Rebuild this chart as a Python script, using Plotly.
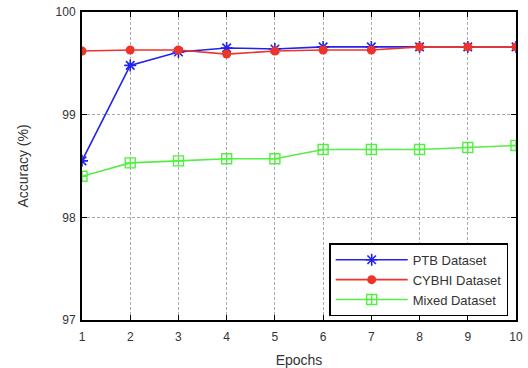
import plotly.graph_objects as go

epochs = [1, 2, 3, 4, 5, 6, 7, 8, 9, 10]
ptb = [98.55, 99.48, 99.61, 99.65, 99.64, 99.66, 99.66, 99.66, 99.66, 99.66]
cybhi = [99.62, 99.63, 99.63, 99.59, 99.62, 99.63, 99.63, 99.66, 99.66, 99.66]
mixed = [98.40, 98.53, 98.55, 98.57, 98.57, 98.66, 98.66, 98.66, 98.68, 98.70]

fig = go.Figure()
fig.add_trace(go.Scatter(x=epochs, y=ptb, name="PTB Dataset", mode="lines+markers",
                         line=dict(color="#2222ee", width=1.6),
                         marker=dict(symbol="asterisk-open", size=10, color="#2222ee",
                                     line=dict(color="#2222ee", width=1.6))))
fig.add_trace(go.Scatter(x=epochs, y=cybhi, name="CYBHI Dataset", mode="lines+markers",
                         line=dict(color="#ee3329", width=1.6),
                         marker=dict(symbol="circle", size=9, color="#ee3329")))
fig.add_trace(go.Scatter(x=epochs, y=mixed, name="Mixed Dataset", mode="lines+markers",
                         line=dict(color="#55ee44", width=1.6),
                         marker=dict(symbol="square-cross-open", size=10, color="#55ee44",
                                     line=dict(color="#55ee44", width=1.4))))

axis_common = dict(showline=True, linecolor="black", linewidth=2, mirror="ticks",
                   ticks="inside", ticklen=5, tickcolor="black", automargin=False,
                   showgrid=True, gridcolor="#aaaaaa", griddash="3px,2px", gridwidth=1,
                   zeroline=False, tickfont=dict(size=12, color="#333333"))

fig.update_layout(
    width=528, height=368,
    margin=dict(l=82, r=12, t=12, b=48),
    paper_bgcolor="white", plot_bgcolor="white",
    font=dict(family="Liberation Sans, Arial, sans-serif", size=12, color="#333333"),
    xaxis=dict(range=[1, 10], tickvals=epochs, ticklabelstandoff=5,
               title=dict(text="Epochs", standoff=12), **axis_common),
    yaxis=dict(range=[97, 100], tickvals=[97, 98, 99, 100], ticklabelstandoff=2,
               title=dict(text="Accuracy (%)", standoff=24), **axis_common),
    legend=dict(x=0.982, xanchor="right", y=0.012, yanchor="bottom",
                bordercolor="black", borderwidth=1.5, bgcolor="white",
                font=dict(size=13, color="#333333"), tracegroupgap=0,
                itemwidth=72),
    showlegend=True,
)
fig.write_html("out.html")
